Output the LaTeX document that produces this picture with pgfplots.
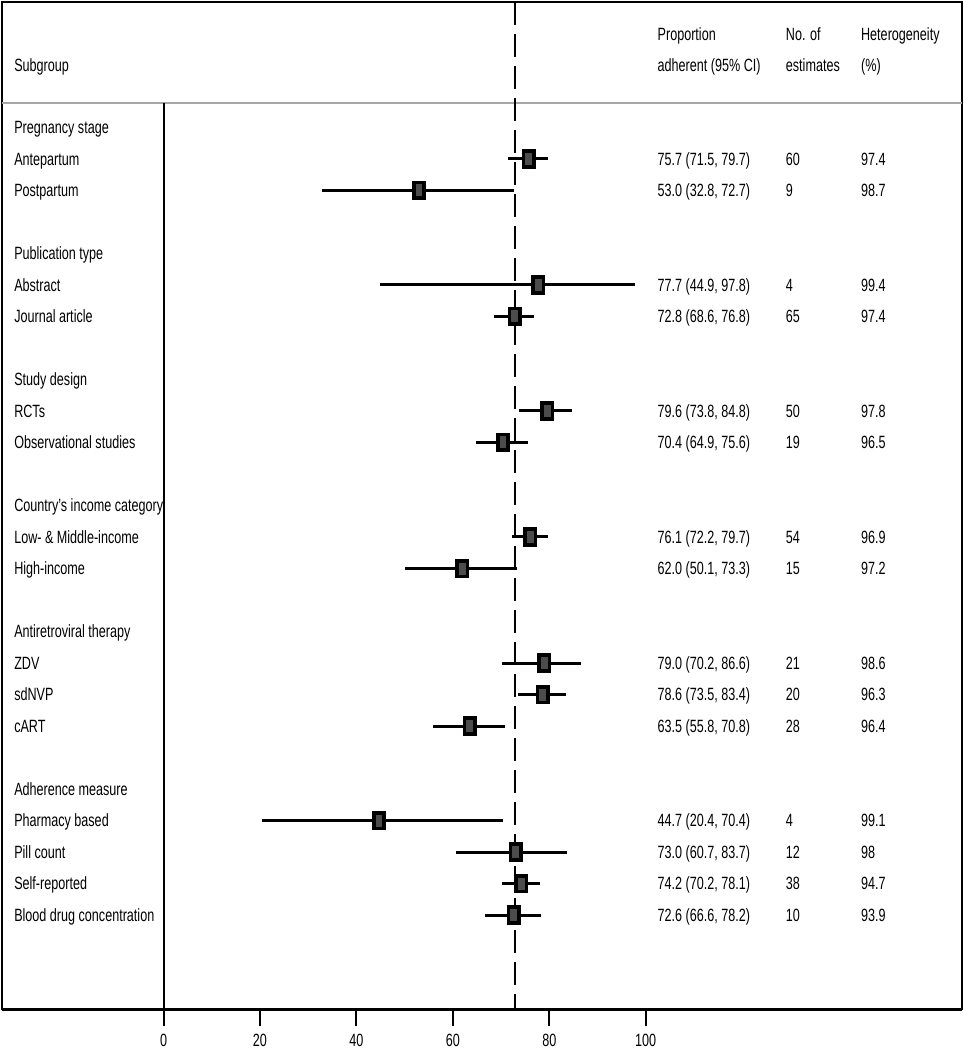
\documentclass[border=0pt]{standalone}
\usepackage{pgfplots}
\pgfplotsset{compat=1.18}
\usepackage{pgfplotstable}
\usepackage{fontspec}
\setmainfont[FakeStretch=0.71]{Liberation Sans}

\pgfdeclareplotmark{rrect}{%
  \pgfsetcornersarced{\pgfpoint{1.4pt}{1.4pt}}%
  \pgfpathmoveto{\pgfpoint{-2.6pt}{0pt}}%
  \pgfpathlineto{\pgfpoint{-2.6pt}{3.9pt}}%
  \pgfpathlineto{\pgfpoint{2.6pt}{3.9pt}}%
  \pgfpathlineto{\pgfpoint{2.6pt}{-3.9pt}}%
  \pgfpathlineto{\pgfpoint{-2.6pt}{-3.9pt}}%
  \pgfpathclose
  \pgfusepathqfillstroke}

% row = -(row index), est, lo, hi
\pgfplotstableread{
row est lo hi
-1  75.7 71.5 79.7
-2  53.0 32.8 72.7
-5  77.7 44.9 97.8
-6  72.8 68.6 76.8
-9  79.6 73.8 84.8
-10 70.4 64.9 75.6
-13 76.1 72.2 79.7
-14 62.0 50.1 73.3
-17 79.0 70.2 86.6
-18 78.6 73.5 83.4
-19 63.5 55.8 70.8
-22 44.7 20.4 70.4
-23 73.0 60.7 83.7
-24 74.2 70.2 78.1
-25 72.6 66.6 78.2
}\data

\begin{document}
\fontsize{8.87}{10.6}\selectfont
\begin{tikzpicture}[font=\fontsize{8.87}{10.6}\selectfont,
  tl/.style={anchor=base west, yshift=-3.17pt, inner sep=0pt}]
\begin{axis}[
  scale only axis,
  width=480pt, height=503.65pt,
  xmin=-33.5, xmax=165.6,
  ymin=-27.99, ymax=3.98,
  clip=false,
  axis line style={line width=1pt, black},
  xtick={0,20,40,60,80,100},
  xtick pos=lower,
  tick align=outside,
  major tick length=8.5pt,
  tick style={line width=1pt, black},
  ytick=\empty,
  /pgf/number format/assume math mode=true,
  xticklabel style={yshift=-0.5pt},
]
% header separator (gray) and vertical zero line
\draw[line width=1.2pt, black!35] (axis cs:-33.5,0.77) -- (axis cs:165.6,0.77);
\draw[line width=1pt, black] (axis cs:0,0.77) -- (axis cs:0,-27.99);
\draw[line width=1.8pt, black] (rel axis cs:0,0) -- (rel axis cs:1,0);

% overall estimate
\addplot[black, line width=1pt, dash pattern=on 11.5pt off 4.5pt] coordinates {(72.8,3.98) (72.8,-27.99)};

% subgroup estimates with 95% CI
\addplot[black, only marks, mark=rrect,
  mark options={fill=black!70, draw=black, line width=1.8pt},
  error bars/.cd, x dir=both, x explicit, error mark=none,
  error bar style={line width=1.5pt, black}]
  table[x=est, y=row,
        x error minus expr=\thisrow{est}-\thisrow{lo},
        x error plus expr=\thisrow{hi}-\thisrow{est}] {\data};

% headers
\node[tl] at (axis cs:-31.04,1.96) {Subgroup};
\node[tl] at (axis cs:102.4,2.96) {Proportion};
\node[tl] at (axis cs:102.4,1.96) {adherent (95\% CI)};
\node[tl] at (axis cs:129.0,2.96) {No. of};
\node[tl] at (axis cs:129.0,1.96) {estimates};
\node[tl] at (axis cs:144.6,2.96) {Heterogeneity};
\node[tl] at (axis cs:144.6,1.96) {(\%)};

% left labels
\node[tl] at (axis cs:-31.04,0) {Pregnancy stage};
\node[tl] at (axis cs:-31.04,-1) {Antepartum};
\node[tl] at (axis cs:-31.04,-2) {Postpartum};
\node[tl] at (axis cs:-31.04,-4) {Publication type};
\node[tl] at (axis cs:-31.04,-5) {Abstract};
\node[tl] at (axis cs:-31.04,-6) {Journal article};
\node[tl] at (axis cs:-31.04,-8) {Study design};
\node[tl] at (axis cs:-31.04,-9) {RCTs};
\node[tl] at (axis cs:-31.04,-10) {Observational studies};
\node[tl] at (axis cs:-31.04,-12) {Country's income category};
\node[tl] at (axis cs:-31.04,-13) {Low- \& Middle-income};
\node[tl] at (axis cs:-31.04,-14) {High-income};
\node[tl] at (axis cs:-31.04,-16) {Antiretroviral therapy};
\node[tl] at (axis cs:-31.04,-17) {ZDV};
\node[tl] at (axis cs:-31.04,-18) {sdNVP};
\node[tl] at (axis cs:-31.04,-19) {cART};
\node[tl] at (axis cs:-31.04,-21) {Adherence measure};
\node[tl] at (axis cs:-31.04,-22) {Pharmacy based};
\node[tl] at (axis cs:-31.04,-23) {Pill count};
\node[tl] at (axis cs:-31.04,-24) {Self-reported};
\node[tl] at (axis cs:-31.04,-25) {Blood drug concentration};

% right columns
\node[tl] at (axis cs:102.4,-1) {75.7 (71.5, 79.7)};
\node[tl] at (axis cs:129.0,-1) {60};
\node[tl] at (axis cs:144.6,-1) {97.4};
\node[tl] at (axis cs:102.4,-2) {53.0 (32.8, 72.7)};
\node[tl] at (axis cs:129.0,-2) {9};
\node[tl] at (axis cs:144.6,-2) {98.7};
\node[tl] at (axis cs:102.4,-5) {77.7 (44.9, 97.8)};
\node[tl] at (axis cs:129.0,-5) {4};
\node[tl] at (axis cs:144.6,-5) {99.4};
\node[tl] at (axis cs:102.4,-6) {72.8 (68.6, 76.8)};
\node[tl] at (axis cs:129.0,-6) {65};
\node[tl] at (axis cs:144.6,-6) {97.4};
\node[tl] at (axis cs:102.4,-9) {79.6 (73.8, 84.8)};
\node[tl] at (axis cs:129.0,-9) {50};
\node[tl] at (axis cs:144.6,-9) {97.8};
\node[tl] at (axis cs:102.4,-10) {70.4 (64.9, 75.6)};
\node[tl] at (axis cs:129.0,-10) {19};
\node[tl] at (axis cs:144.6,-10) {96.5};
\node[tl] at (axis cs:102.4,-13) {76.1 (72.2, 79.7)};
\node[tl] at (axis cs:129.0,-13) {54};
\node[tl] at (axis cs:144.6,-13) {96.9};
\node[tl] at (axis cs:102.4,-14) {62.0 (50.1, 73.3)};
\node[tl] at (axis cs:129.0,-14) {15};
\node[tl] at (axis cs:144.6,-14) {97.2};
\node[tl] at (axis cs:102.4,-17) {79.0 (70.2, 86.6)};
\node[tl] at (axis cs:129.0,-17) {21};
\node[tl] at (axis cs:144.6,-17) {98.6};
\node[tl] at (axis cs:102.4,-18) {78.6 (73.5, 83.4)};
\node[tl] at (axis cs:129.0,-18) {20};
\node[tl] at (axis cs:144.6,-18) {96.3};
\node[tl] at (axis cs:102.4,-19) {63.5 (55.8, 70.8)};
\node[tl] at (axis cs:129.0,-19) {28};
\node[tl] at (axis cs:144.6,-19) {96.4};
\node[tl] at (axis cs:102.4,-22) {44.7 (20.4, 70.4)};
\node[tl] at (axis cs:129.0,-22) {4};
\node[tl] at (axis cs:144.6,-22) {99.1};
\node[tl] at (axis cs:102.4,-23) {73.0 (60.7, 83.7)};
\node[tl] at (axis cs:129.0,-23) {12};
\node[tl] at (axis cs:144.6,-23) {98};
\node[tl] at (axis cs:102.4,-24) {74.2 (70.2, 78.1)};
\node[tl] at (axis cs:129.0,-24) {38};
\node[tl] at (axis cs:144.6,-24) {94.7};
\node[tl] at (axis cs:102.4,-25) {72.6 (66.6, 78.2)};
\node[tl] at (axis cs:129.0,-25) {10};
\node[tl] at (axis cs:144.6,-25) {93.9};
\end{axis}
\pgfresetboundingbox
\path[use as bounding box] (-1pt,-20.35pt) rectangle (481pt,504.65pt);
\end{tikzpicture}
\end{document}
